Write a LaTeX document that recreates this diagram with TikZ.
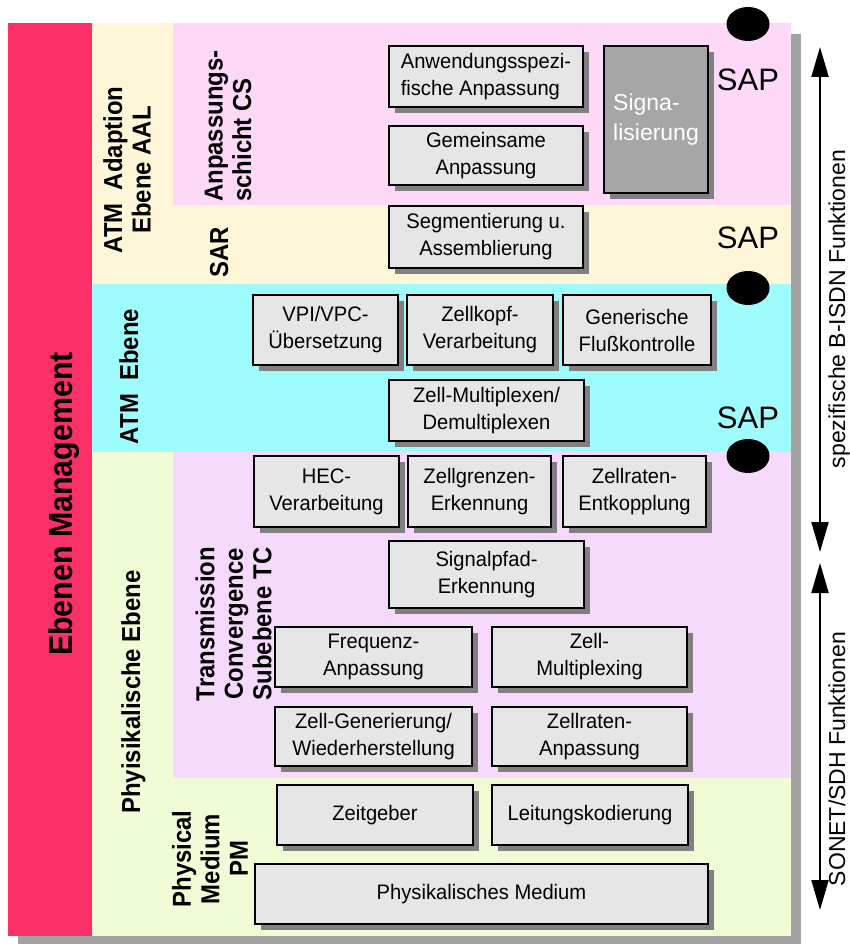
\documentclass[tikz,border=0pt]{standalone}
\usepackage{fontspec}
\setmainfont{Liberation Sans}
\newfontfamily\lblfont[FakeStretch=0.92]{Liberation Sans}
\newfontfamily\fnfont[FakeStretch=0.96]{Liberation Sans}
\usetikzlibrary{shapes.geometric,shadows,arrows.meta}

\definecolor{mgmtred}{HTML}{FB3068}
\definecolor{aalcream}{HTML}{FDF6D8}
\definecolor{cspink}{HTML}{FDD9F7}
\definecolor{atmcyan}{HTML}{9FFCFC}
\definecolor{phygreen}{HTML}{F0FCD6}
\definecolor{tclilac}{HTML}{F5DAFC}
\definecolor{boxfill}{HTML}{E6E6E6}
\definecolor{boxshadow}{HTML}{808080}
\definecolor{frameshadow}{HTML}{A3A3A3}
\definecolor{sigfill}{HTML}{A6A6A6}

\tikzset{
  fn/.style={draw=black, line width=1.8pt, fill=boxfill, inner sep=0pt,
    align=center, font=\fnfont\fontsize{21}{27}\selectfont,
    drop shadow={shadow xshift=6pt, shadow yshift=-6pt, fill=boxshadow, opacity=1}},
  vlabel/.style={rotate=90, inner sep=0pt, align=center,
    font=\lblfont\bfseries\fontsize{26}{28.5}\selectfont},
  sap/.style={font=\fontsize{31}{34}\selectfont, anchor=base, inner sep=0pt},
  sapdot/.style={ellipse, fill=black, minimum width=43pt, minimum height=34pt, inner sep=0pt},
  spanarrow/.style={line width=2pt, {Triangle[length=30pt,width=17pt]}-{Triangle[length=30pt,width=17pt]}},
  rlabel/.style={rotate=90, anchor=base, inner sep=0pt, font=\fontsize{23}{26}\selectfont}
}

\begin{document}
\begin{tikzpicture}[x=1pt, y=-1pt]
\useasboundingbox (0,0) rectangle (850,944);

% layer bands with the frame shadow
\fill[frameshadow] (18,34) rectangle (801,944);
\fill[mgmtred] (8,23) rectangle (92,936);
\fill[aalcream] (92,23) rectangle (791,284);
\fill[cspink] (173,23) rectangle (791,205);
\fill[atmcyan] (92,284) rectangle (791,452);
\fill[phygreen] (92,452) rectangle (791,936);
\fill[tclilac] (173,452) rectangle (791,778);

% layer names
\node[vlabel, anchor=base, font=\lblfont\bfseries\fontsize{33}{36}\selectfont] (mgmt) at (72,504) {Ebenen Management};
\node[vlabel] (aal) at (127,170) {ATM~~Adaption\\Ebene AAL};
\node[vlabel, align=left, anchor=west] (cs) at (228,202) {Anpassungs-\\schicht CS};
\node[vlabel, anchor=base] (sar) at (228,252.5) {SAR};
\node[vlabel, anchor=base] (atm) at (138,376.5) {ATM~~Ebene};
\node[vlabel, anchor=base] (phy) at (140,692) {Phyisikalische Ebene};
\node[vlabel] (tc) at (233.5,624) {Transmission\\Convergence\\Subebene TC};
\node[vlabel] (pm) at (210,859) {Physical\\Medium\\PM};

% AAL functions
\node[fn, align=left, minimum width=194pt, minimum height=61pt] (anw) at (486,76.5) {Anwendungsspezi-\\fische Anpassung};
\node[fn, minimum width=194pt, minimum height=59pt] (gem) at (486,155.5) {Gemeinsame\\Anpassung};
\node[fn, minimum width=194pt, minimum height=62pt] (seg) at (486,237) {Segmentierung u.\\Assemblierung};
\node[fn, fill=sigfill, text=white, align=left, font=\fontsize{23}{30}\selectfont,
      minimum width=104pt, minimum height=147pt] (sig) at (656,119.5) {Signa-\\lisierung};

% ATM layer functions
\node[fn, minimum width=145pt, minimum height=70pt] (vpi) at (325.5,330) {VPI/VPC-\\Übersetzung};
\node[fn, minimum width=146pt, minimum height=70pt] (zkv) at (480,330) {Zellkopf-\\Verarbeitung};
\node[fn, minimum width=148pt, minimum height=70pt] (gfk) at (637,330) {Generische\\Flußkontrolle};
\node[fn, minimum width=195pt, minimum height=61pt] (zmd) at (486.5,410.5) {Zell-Multiplexen/\\Demultiplexen};

% transmission convergence functions
\node[fn, minimum width=145pt, minimum height=71pt] (hec) at (326.5,491.5) {HEC-\\Verarbeitung};
\node[fn, minimum width=143pt, minimum height=71pt] (zge) at (479.5,491.5) {Zellgrenzen-\\Erkennung};
\node[fn, minimum width=143pt, minimum height=71pt] (zre) at (634.5,491.5) {Zellraten-\\Entkopplung};
\node[fn, minimum width=195pt, minimum height=67pt] (spe) at (486.5,574.5) {Signalpfad-\\Erkennung};
\node[fn, minimum width=197pt, minimum height=60pt] (fra) at (373.5,657) {Frequenz-\\Anpassung};
\node[fn, minimum width=195pt, minimum height=60pt] (zmx) at (589.5,657) {Zell-\\Multiplexing};
\node[fn, minimum width=197pt, minimum height=59pt] (zgw) at (373.5,736.5) {Zell-Generierung/\\Wiederherstellung};
\node[fn, minimum width=195pt, minimum height=59pt] (zra) at (589.5,736.5) {Zellraten-\\Anpassung};

% physical medium functions
\node[fn, minimum width=196pt, minimum height=60pt] (ztg) at (375,815) {Zeitgeber};
\node[fn, minimum width=196pt, minimum height=60pt] (lkd) at (590,815) {Leitungskodierung};
\node[fn, minimum width=453pt, minimum height=60pt] (pmd) at (481.5,894) {Physikalisches Medium};

% service access points
\node[sapdot] (sap1) at (748,24) {};
\node[sapdot] (sap2) at (748,288) {};
\node[sapdot] (sap3) at (748,456) {};
\node[sap] (sapa) at (748,91) {SAP};
\node[sap] (sapb) at (748,248) {SAP};
\node[sap] (sapc) at (748,428) {SAP};

% function ranges
\coordinate (isdntop) at (820,47);
\coordinate (isdnbot) at (820,552);
\coordinate (sdhtop) at (820,563);
\coordinate (sdhbot) at (820,910);
\draw[spanarrow] (isdntop) -- (isdnbot);
\draw[spanarrow] (sdhtop) -- (sdhbot);
\node[rlabel] (isdn) at (845,309) {spezifische B-ISDN Funktionen};
\node[rlabel] (sdh) at (845,759) {SONET/SDH Funktionen};
\end{tikzpicture}
\end{document}
